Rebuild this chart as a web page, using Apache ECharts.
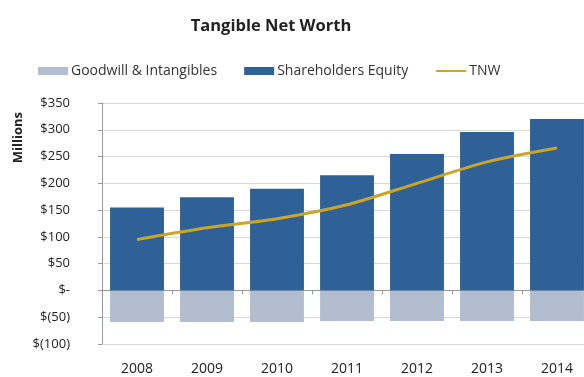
<!DOCTYPE html>
<html><head><meta charset="utf-8">
<script src="https://cdn.jsdelivr.net/npm/echarts@6/dist/echarts.min.js"></script>
<style>html,body{margin:0;padding:0;background:#fff}#c{width:584px;height:377px}</style>
</head><body><div id="c"></div>
<script>
const years = ['2008','2009','2010','2011','2012','2013','2014'];
const goodwill = [-59,-59,-59,-57,-57,-57,-57];
const equity = [155,174,190,215,255,296,320];
const tnw = [95,117,134,160,200,240,266];
const yTicks = {min:-100, max:350, step:50};

function money(v){
  if (v === 0) return '$-';
  if (v < 0) return '$(' + (-v) + ')';
  return '$' + v;
}
const font = 'Open Sans, Liberation Sans, sans-serif';
const chart = echarts.init(document.getElementById('c'));
chart.setOption({
  animation:false,
  textStyle:{fontFamily:font},
  title:{text:'Tangible Net Worth',left:266,top:13,textAlign:'center',
    textStyle:{fontSize:16.5,fontWeight:'bold',color:'#222',fontFamily:font}},
  legend:{top:59,left:33,itemGap:27,itemWidth:30,itemHeight:8,
    textStyle:{fontSize:14,color:'#333',fontFamily:font,padding:[0,0,0,-2]},
    data:[{name:'Goodwill & Intangibles',icon:'rect'},{name:'Shareholders Equity',icon:'rect'},
          {name:'TNW',itemStyle:{opacity:0}}]},
  grid:{left:102,top:103,width:490,height:241,containLabel:false,outerBoundsMode:'none'},
  graphic:[{type:'text',left:12,top:112,rotation:Math.PI/2,
    style:{text:'Millions',font:'bold 13px '+font,fill:'#222'}}],
  xAxis:[
    {type:'category',data:years,position:'bottom',
     axisLine:{show:false,onZero:false},axisTick:{show:false},
     axisLabel:{fontSize:14,color:'#222',margin:18}},
    {type:'category',data:years,position:'top',
     axisLine:{show:true,onZero:true,lineStyle:{color:'#9a9a9a'}},
     axisTick:{show:true,inside:true,length:4,lineStyle:{color:'#9a9a9a'}},
     axisLabel:{show:false}}
  ],
  yAxis:{type:'value',min:yTicks.min,max:yTicks.max,interval:yTicks.step,
    axisLine:{show:true,lineStyle:{color:'#9a9a9a'}},
    axisTick:{show:true,length:4,lineStyle:{color:'#9a9a9a'}},
    axisLabel:{formatter:money,fontSize:13,color:'#222',margin:32},
    splitLine:{lineStyle:{color:'#d9d9d9'}}},
  series:[
    {name:'Goodwill & Intangibles',type:'bar',stack:'a',data:goodwill,barWidth:'77%',
     itemStyle:{color:'#b3bdd0'}},
    {name:'Shareholders Equity',type:'bar',stack:'a',data:equity,barWidth:'77%',
     itemStyle:{color:'#2f6196'}},
    {name:'TNW',type:'line',data:tnw,smooth:0.3,symbol:'none',
     lineStyle:{color:'#c9a62a',width:3},itemStyle:{color:'#c9a62a'}}
  ]
});
</script></body></html>
